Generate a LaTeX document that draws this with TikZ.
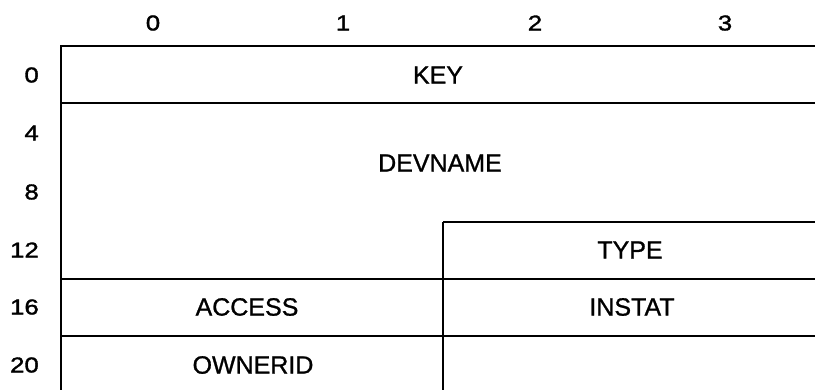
\documentclass[tikz,border=0pt]{standalone}
\usepackage{fontspec}
\setmainfont{Liberation Sans}
\newfontfamily\heavysans[FakeBold=1.6,FakeStretch=1.2]{Liberation Sans}
\newfontfamily\medsans[FakeBold=1.0]{Liberation Sans}
\begin{document}
\begin{tikzpicture}[x=1pt,y=-1pt,
  rule/.style={line width=2.8pt,line join=miter,line cap=butt},
  cell/.style={font=\medsans\fontsize{25}{28}\selectfont,inner sep=0pt,anchor=center},
  collab/.style={font=\heavysans\fontsize{21.5}{24}\selectfont,inner sep=0pt,anchor=center},
  rowlab/.style={font=\heavysans\fontsize{21.5}{24}\selectfont,inner sep=0pt,anchor=east}]
\useasboundingbox (0,0) rectangle (815,389);
\clip (0,0) rectangle (815,389);
% column labels
\node[collab] (c0) at (153,23) {0};
\node[collab] (c1) at (343,23) {1};
\node[collab] (c2) at (535,23) {2};
\node[collab] (c3) at (725,23) {3};
% row labels
\node[rowlab] (r0) at (39,75) {0};
\node[rowlab] (r4) at (39,133) {4};
\node[rowlab] (r8) at (39,192) {8};
\node[rowlab] (r12) at (39,250) {12};
\node[rowlab] (r16) at (39,307) {16};
\node[rowlab] (r20) at (39,365) {20};
% frame lines
\draw[rule] (818,46) -- (61,46) -- (61,392);
\draw[rule] (61,103) -- (818,103);
\draw[rule] (443,222) -- (818,222);
\draw[rule] (443,222) -- (443,392);
\draw[rule] (61,279) -- (818,279);
\draw[rule] (61,336) -- (818,336);
% field names
\node[cell] (key) at (438,75) {KEY};
\node[cell] (devname) at (440,163) {DEVNAME};
\node[cell] (type) at (630,250) {TYPE};
\node[cell] (access) at (247,307) {ACCESS};
\node[cell] (instat) at (632,307) {INSTAT};
\node[cell] (ownerid) at (253,365) {OWNERID};
\end{tikzpicture}
\end{document}
